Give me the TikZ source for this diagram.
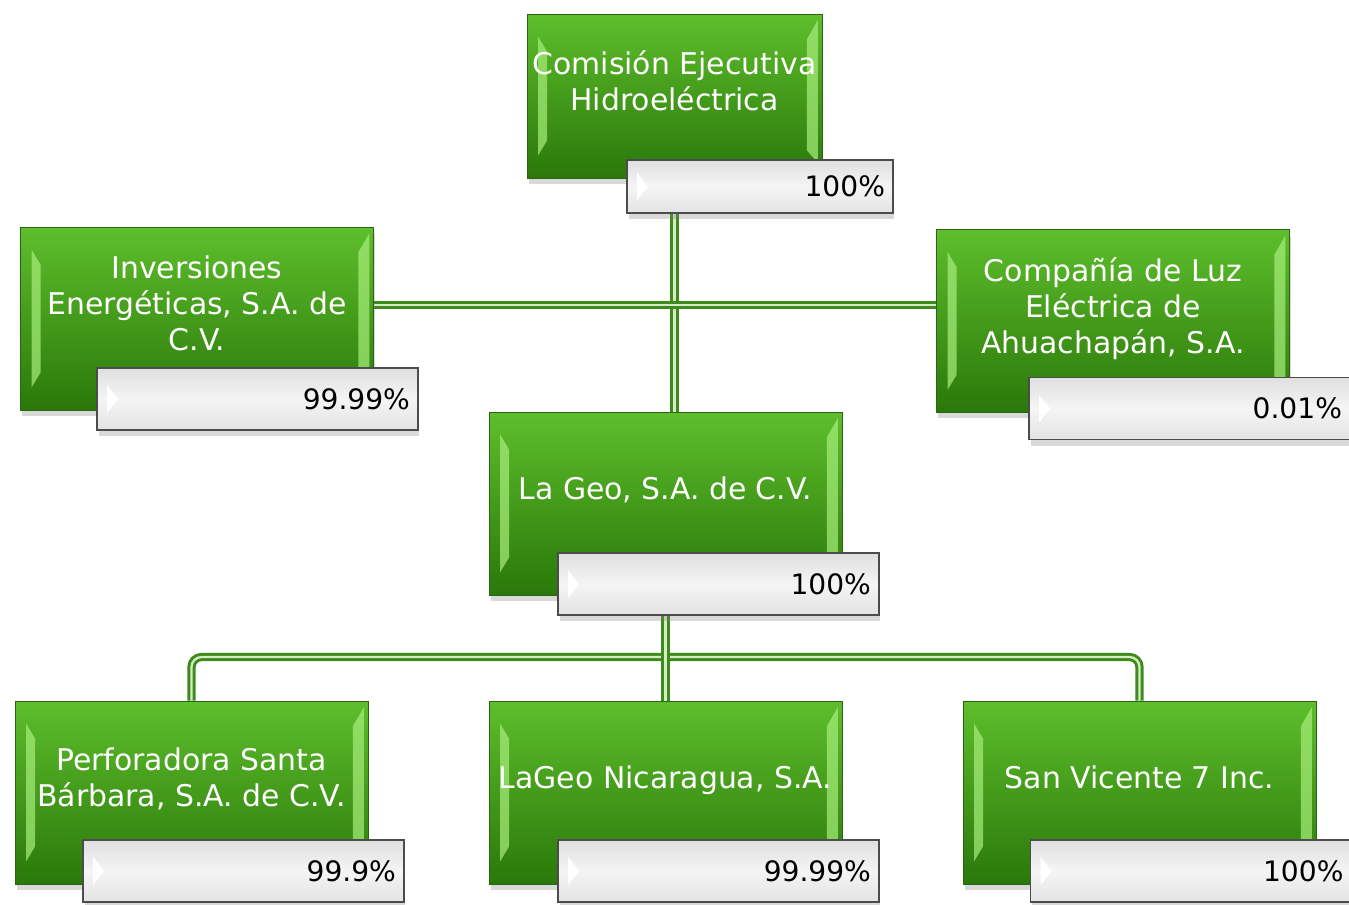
\documentclass[tikz,border=0pt]{standalone}
\usepackage{fontspec}
\setmainfont{DejaVu Sans}
\usetikzlibrary{shadows,backgrounds}
\definecolor{boxtop}{HTML}{5EBE2C}
\definecolor{boxbot}{HTML}{2A780A}
\definecolor{boxedge}{HTML}{2B6412}
\definecolor{bevel}{HTML}{A8EE7C}
\definecolor{linkgreen}{HTML}{3E8A1C}
\definecolor{linkgap}{HTML}{D4EDC4}
\begin{document}
\begin{tikzpicture}[x=0.02cm,y=-0.02cm]
    \tikzset{company/.style = {shape=rectangle, draw=boxedge, top color=boxtop, bottom color=boxbot,
        text=white, align=center, font=\fontsize{17}{20.5}\selectfont, inner sep=2pt,
        minimum width=7.06cm, minimum height=3.66cm, text depth=0.6cm,
        drop shadow={shadow xshift=0.3mm, shadow yshift=-1.2mm, opacity=0.3},
        path picture={
            \fill[bevel, fill opacity=0.7] ([shift={(0.22cm,-0.45cm)}]path picture bounding box.north west)
                -- ([shift={(0.4cm,-0.75cm)}]path picture bounding box.north west)
                -- ([shift={(0.4cm,0.75cm)}]path picture bounding box.south west)
                -- ([shift={(0.22cm,0.45cm)}]path picture bounding box.south west) -- cycle;
            \fill[bevel, fill opacity=0.7] ([shift={(-0.08cm,-0.12cm)}]path picture bounding box.north east)
                -- ([shift={(-0.3cm,-0.5cm)}]path picture bounding box.north east)
                -- ([shift={(-0.3cm,0.55cm)}]path picture bounding box.south east)
                -- ([shift={(-0.08cm,0.3cm)}]path picture bounding box.south east) -- cycle;
        }}}
    \tikzset{share/.style = {shape=rectangle, draw=black!70, line width=0.8pt,
        top color=gray!25, bottom color=gray!22, middle color=gray!8,
        text=black, align=right, font=\fontsize{16}{19}\selectfont,
        minimum height=1.24cm, text width=6.1cm, inner xsep=0.16cm,
        drop shadow={shadow xshift=0.3mm, shadow yshift=-1.2mm, opacity=0.3},
        path picture={
            \fill[white] ([shift={(0.2cm,0.28cm)}]path picture bounding box.west)
                -- ([shift={(0.42cm,0cm)}]path picture bounding box.west)
                -- ([shift={(0.2cm,-0.28cm)}]path picture bounding box.west) -- cycle;
        }}}
    \tikzset{link/.style = {draw=linkgreen, double=linkgap, line width=1.7pt, double distance=1.3pt}}
    \useasboundingbox (0,0) rectangle (1349,904);
    % owner
    \node[company, minimum width=5.9cm, minimum height=3.28cm] (ceh) at (674.5,96) {Comisión Ejecutiva\\Hidroeléctrica};
    \node[share, text width=5.0cm, minimum height=1.06cm] (ceh-share) at (760,186.5) {100\%};
    % shareholders of La Geo
    \node[company] (inv) at (197,318.5) {Inversiones\\Energéticas, S.A. de\\C.V.};
    \node[share] (inv-share) at (257.5,399) {99.99\%};
    \node[company] (luz) at (1113,321) {Compañía de Luz\\Eléctrica de\\Ahuachapán, S.A.};
    \node[share] (luz-share) at (1189.5,408.5) {0.01\%};
    % La Geo
    \node[company] (lageo) at (665.5,503.5) {La Geo, S.A. de C.V.};
    \node[share] (lageo-share) at (718.5,584) {100\%};
    % subsidiaries
    \node[company] (perf) at (191.5,792.5) {Perforadora Santa\\Bárbara, S.A. de C.V.};
    \node[share] (perf-share) at (243.5,871) {99.9\%};
    \node[company] (nic) at (665.5,792.5) {LaGeo Nicaragua, S.A.};
    \node[share] (nic-share) at (718.5,871) {99.99\%};
    \node[company] (svi) at (1139.5,792.5) {San Vicente 7 Inc.};
    \node[share] (svi-share) at (1191,871) {100\%};
    % connectors
    \coordinate (hub) at (674.5,305);
    \coordinate (bus) at (665.5,657);
    \begin{scope}[on background layer]
        \draw[link] (ceh.south) -- (ceh.south |- lageo.north);
        \draw[link] (inv.east |- hub) -- (luz.west |- hub);
        \draw[link, rounded corners=0.2cm] (perf.north) |- (bus) -| (svi.north);
        \draw[link] (lageo.south) -- (nic.north);
    \end{scope}
\end{tikzpicture}
\end{document}
